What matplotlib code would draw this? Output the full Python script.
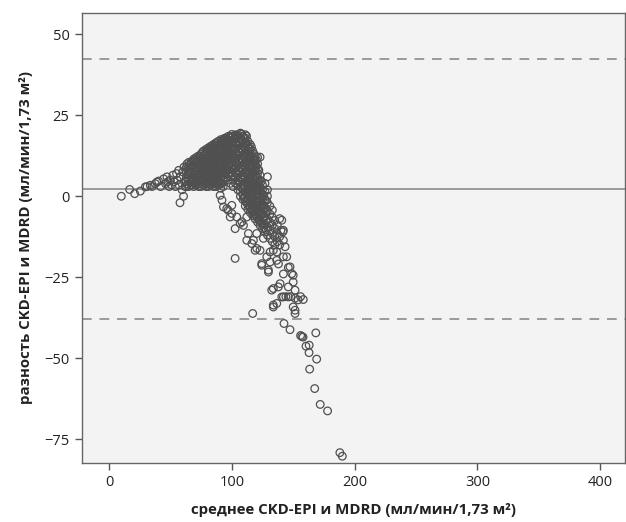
import matplotlib
matplotlib.use("Agg")
import matplotlib.pyplot as plt

# ---------------- data ----------------
x_ticks = [0, 100, 200, 300, 400]
y_ticks = [-75, -50, -25, 0, 25, 50]

mean_diff = 2.3
upper_loa = 42.3
lower_loa = -37.8

# sparse start of the rising arm
start_pts = [(10, 0), (16.8, 2.1), (20.9, 0.8), (25.5, 1.6), (29.6, 2.9), (31, 3),
             (33.6, 3.4), (35, 3), (37.7, 3.9), (39, 4.4), (40.4, 4.7), (42, 3),
             (44.5, 5.4), (46, 3.9), (47.2, 6), (48, 4.5), (49, 3), (50, 5),
             (51, 3.5), (52, 6.5), (53, 4.5), (54, 3), (55, 7), (55.5, 5),
             (56.7, 8), (57, 3.5), (57.8, -2), (58, 6), (59.5, 2), (60, 7.5),
             (60.7, 0), (61, 9), (61.5, 4.5), (62, 3), (63.5, 10)]

# dense rising band: x -> list of y
rise_cols = {
    63: [3, 4.5, 6, 7.5, 9],
    65: [3, 5, 6.5, 8, 9.5, 10.5],
    67: [3.5, 4.5, 6, 7.5, 9, 10.5],
    69: [3, 5, 6.5, 8, 9.5, 11, 11.5],
    71: [3.5, 4.5, 6, 7.5, 9, 10.5, 12],
    73: [3, 5, 6.5, 8, 9.5, 11, 12.5],
    75: [3, 4.5, 6, 7.5, 9, 10.5, 12, 13],
    77: [3.5, 5, 6.5, 8, 9.5, 11, 12.5, 14],
    79: [3, 4.5, 6, 7.5, 9, 10.5, 12, 13.5, 14.5],
    81: [3, 5, 6.5, 8, 9.5, 11, 12.5, 14, 15],
    83: [3.5, 5, 6, 7.5, 9, 10.5, 12, 13.5, 15, 15.5],
    85: [3, 4.5, 6, 7.5, 9, 10.5, 12, 13.5, 15, 16],
    87: [3, 5, 6.5, 8, 9.5, 11, 12.5, 14, 15.5, 16.5],
    89: [3.5, 5, 6.5, 8, 9.5, 11, 12.5, 14, 15.5, 17],
    91: [2.5, 4, 5.5, 7, 8.5, 10, 11.5, 13, 14.5, 16, 17.5],
    93: [3, 5, 6.5, 8, 9.5, 11, 12.5, 14, 15.5, 17, 17.5],
}

# staggered extra points in the rising band
rise_fill = {
    64: [3.8, 6.7, 8.6],
    66: [4.2, 7.1, 9.8],
    68: [3.6, 5.7, 8.8, 10.9],
    70: [4.1, 6.9, 10.2],
    72: [3.9, 5.6, 8.4, 11.3],
    74: [4.3, 7.2, 10.1, 12.4],
    76: [3.7, 5.8, 8.7, 11.6, 13.6],
    78: [4.1, 7.3, 10.2, 12.9],
    80: [3.8, 5.7, 8.9, 11.8, 14.2],
    82: [4.2, 7.1, 10.3, 13.1, 14.6],
    84: [3.9, 5.6, 8.6, 11.5, 14.3],
    86: [4.1, 6.9, 9.8, 12.8, 15.6],
    88: [3.7, 5.8, 8.7, 11.9, 14.7, 16.4],
    90: [4.3, 7.2, 10.2, 13.3, 16.2],
    92: [3.9, 6.1, 9.1, 12.1, 15.1, 17.2],
    94: [4.6, 7.4, 10.4, 13.3, 16.4, 17.9],
}

# dense peak and upper descending part: x -> list of y
peak_cols = {
    95: [6, 8, 9.5, 11, 12.5, 14, 15.5, 17, 18],
    97: [5, 7, 8.5, 10, 11.5, 13, 14.5, 16, 17.5, 18.5],
    99: [4, 6, 7.5, 9, 10.5, 12, 13.5, 15, 16.5, 18, 18.5],
    101: [3, 5, 6.5, 8, 9.5, 11, 12.5, 14, 15.5, 17, 18.5],
    103: [4, 6, 7.5, 9, 10.5, 12, 13.5, 15, 16.5, 18, 19],
    105: [2, 3.5, 5, 6.5, 8, 9.5, 11, 12.5, 14, 15.5, 17, 18.5, 19],
    107: [0, 1.5, 3, 4.5, 6, 7.5, 9, 10.5, 12, 13.5, 15, 16.5, 18, 19.5],
    109: [-1, 0.5, 2, 3.5, 5, 6.5, 8, 9.5, 11, 12.5, 14, 15.5, 17, 18.5],
    111: [-3, -1.5, 0, 1.5, 3, 4.5, 6, 7.5, 9, 10.5, 12, 13.5, 15, 16.5, 18, 19],
    113: [-4, -2.5, -1, 0.5, 2, 3.5, 5, 6.5, 8, 9.5, 11, 12.5, 14, 15.5, 17],
    115: [-5, -3.5, -2, -0.5, 1, 2.5, 4, 5.5, 7, 8.5, 10, 11.5, 13, 14.5, 16],
    117: [-6, -4.5, -3, -1.5, 0, 1.5, 3, 4.5, 6, 7.5, 9, 10.5, 12, 14],
    119: [-7, -5.5, -4, -2.5, -1, 0.5, 2, 3.5, 5, 6.5, 8, 9.5, 11, 12.5],
    121: [-8, -6.5, -5, -3.5, -2, -0.5, 1, 2.5, 4, 5.5, 7, 8.5, 10, 12],
    123: [-9, -7.5, -6, -4.5, -3, -1.5, 0, 1.5, 3, 5, 6.5, 12.1],
    125: [-10, -8.5, -7, -5.5, -4, -2.5, -1, 0.5, 2, 3.5],
    127: [-11, -8.5, -6, -3.5, -1, 1.5, 4],
    129: [-12, -9.5, -7, -4.5, -2, 0, 2, 6],
    131: [-13, -10.5, -8, -5.5, -3],
    133: [-14, -11.5, -9, -6.5, -4.3],
    135: [-15, -12.5, -10, -7.5],
    137: [-14, -11.5, -9],
    139: [-15, -12.5, -6.9],
}

# staggered extra points in the peak
peak_fill = {
    96: [9.1, 12.2, 15.1, 17.6],
    98: [8.2, 11.3, 14.2, 17.1],
    100: [7.2, 10.3, 13.1, 16.2, 19.1],
    102: [8.6, 11.7, 14.6, 17.8],
    104: [7.1, 10.1, 13.2, 16.1, 18.4],
    106: [4.3, 8.8, 11.6, 14.7, 17.7],
    108: [2.6, 5.7, 8.4, 11.3, 14.4, 17.3, 19.2],
    110: [-0.4, 3.1, 6.2, 9.3, 12.2, 15.2, 17.9],
    112: [-1.9, 1.2, 4.3, 7.2, 10.1, 13.2, 16.3, 18.6],
    114: [-3.1, 0.1, 3.2, 6.1, 9.2, 12.1, 15.1],
    116: [-4.2, -1.1, 2.2, 5.1, 8.3, 11.2, 15.2],
    118: [-5.3, -2.1, 1.1, 4.2, 7.1, 10.2, 13.1],
    120: [-6.2, -3.1, 0.1, 3.2, 6.1, 9.2, 11.3],
    122: [-7.3, -4.1, -1.2, 2.1, 4.4, 8.1],
    124: [-8.2, -5.1, -2.2, 1.1, 4.6],
    126: [-9.6, -6.4, -2.9, 0.2],
    128: [-10.4, -7.6, -4.9, -1.3],
}

# inner (left) descending branch and lower descending part
branch_pts = [(90.5, 0.3), (92, -1.2), (93.2, -3.3), (95.9, -3.8), (97, -4.3),
              (98.7, -6.4), (100, -2.8), (100, -5.3), (104, -6.4), (102.7, -10),
              (106.8, -8.4), (108.2, -7.9), (109.5, -9), (112.2, -6.4),
              (113.5, -11.5), (112.2, -13.6), (116.3, -14.6), (117.6, -13.6),
              (119, -16.7), (120.3, -16.1), (123, -16.7), (120.3, -11.5),
              (125.7, -13), (124.4, -20.8), (128.5, -18.7), (131.2, -17.2),
              (131.2, -20.3), (133.8, -16.7), (136.6, -17.2), (136.6, -19.8),
              (138, -20.9), (142, -18.7), (140.7, -7.4), (142, -10.5),
              (140, -10.5), (141.6, -11), (142, -13.6), (143.4, -15.6),
              (144.7, -18.7), (102.7, -19.2)]

tail_pts = [(124.4, -21.3), (129.8, -23.4), (129.8, -22.8), (133.8, -28.5),
            (132.5, -29), (137.9, -28), (139.3, -27), (142, -24), (146, -22),
            (147.4, -21.8), (148.8, -23.9), (150, -24.4), (150, -26.5),
            (151.5, -29), (146, -28), (142, -31.1), (140.7, -31.1),
            (144, -31), (146, -31.1), (148, -31), (151.5, -31.5), (154, -32),
            (156, -31), (158.2, -31.9), (133.8, -33.6), (136.6, -33.1),
            (133.8, -34.2), (150, -34.2), (151.5, -35.2), (151.5, -36.2),
            (117, -36.2), (142.5, -39.3), (147.4, -41.2), (156, -43),
            (157, -43.3), (158, -43.5), (168.4, -42.2), (160.4, -46.3),
            (163, -46), (162.9, -48.3), (169.1, -50.3), (163.4, -53.4),
            (167.5, -59.4), (172, -64.3), (178, -66.3), (188, -79.2),
            (190, -80.3)]

x_label = "среднее CKD-EPI и MDRD (мл/мин/1,73 м²)"
y_label = "разность CKD-EPI и MDRD (мл/мин/1,73 м²)"

# ---------------- build point arrays ----------------
xs, ys = [], []
for pts in (start_pts, branch_pts, tail_pts):
    for x, y in pts:
        xs.append(x)
        ys.append(y)
for cols in (rise_cols, rise_fill, peak_cols, peak_fill):
    for x, yl in cols.items():
        for y in yl:
            xs.append(x)
            ys.append(y)

# ---------------- plot ----------------
plt.rcParams['font.family'] = ['Open Sans', 'DejaVu Sans']

fig = plt.figure(figsize=(6.26, 5.22), dpi=100)
ax = fig.add_axes([0.131, 0.1136, 0.867, 0.8614])
ax.set_facecolor('#f3f3f3')

line_col = '#9a9a9a'
ax.axhline(upper_loa, color=line_col, lw=1.4, ls=(0, (5, 4)), zorder=1)
ax.axhline(lower_loa, color=line_col, lw=1.4, ls=(0, (5, 4)), zorder=1)
ax.axhline(mean_diff, color=line_col, lw=1.4, zorder=1)

ax.scatter(xs, ys, s=30, facecolors='none', edgecolors='#505050',
           linewidths=0.9, zorder=2)

ax.set_xlim(-22, 420)
ax.set_ylim(-82.3, 56.6)
ax.set_xticks(x_ticks)
ax.set_yticks(y_ticks)

for sp in ax.spines.values():
    sp.set_color('#666666')
    sp.set_linewidth(1.0)

ax.tick_params(axis='both', direction='out', length=5, width=1,
               color='#555555', labelsize=10.5, labelcolor='#222222', pad=4)

ax.set_xlabel(x_label, fontsize=10.8, fontweight='bold', color='#222222', labelpad=9)
ax.set_ylabel(y_label, fontsize=10.8, fontweight='bold', color='#222222', labelpad=8)

fig.savefig('out.png', dpi=100)
